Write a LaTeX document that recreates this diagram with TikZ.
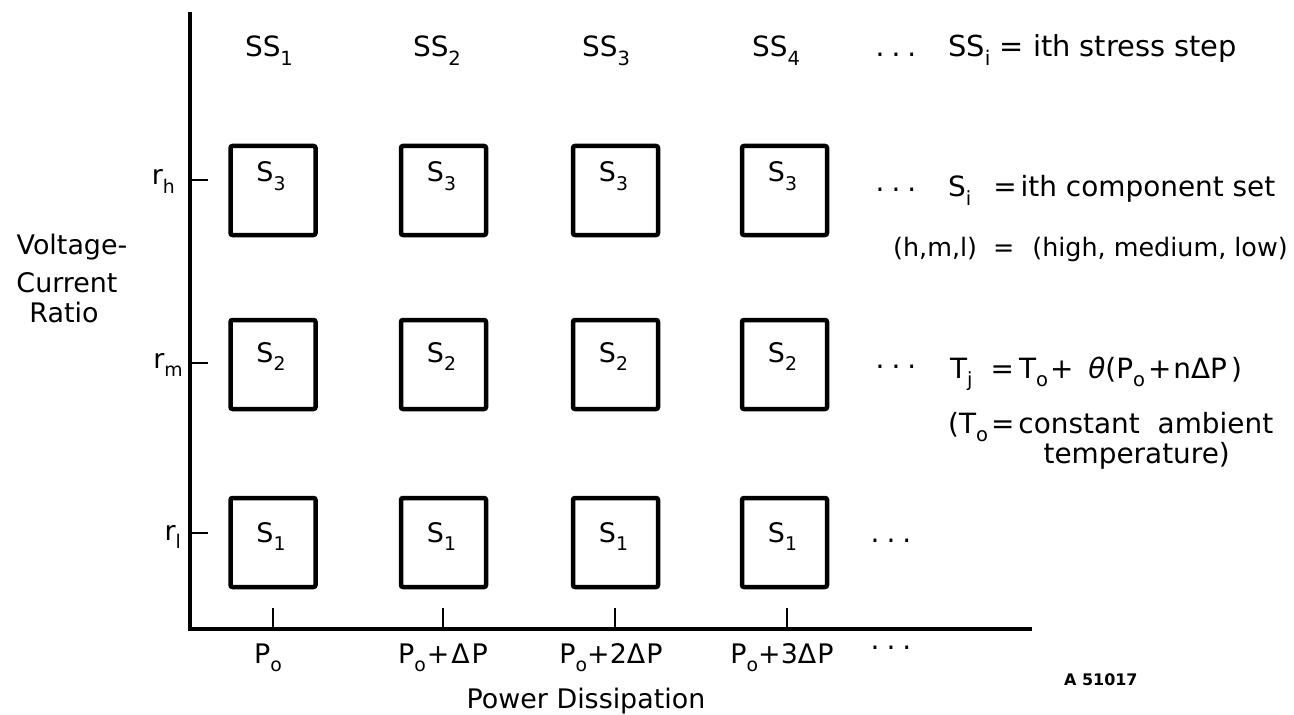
\documentclass[tikz,border=0pt]{standalone}
\usepackage{fontspec}
\setmainfont{DejaVu Sans}
\newcommand{\lo}[1]{\raisebox{-0.3em}{\scalebox{0.7}{#1}}}
\newcommand{\ddd}{.\hspace{7bp}.\hspace{7bp}.}
\begin{document}
\begin{tikzpicture}[x=1bp,y=-1bp,
  cell/.style={draw, line width=4.5bp, rounded corners=2bp, minimum width=85bp, minimum height=89bp, inner sep=0pt},
  lab/.style={inner sep=0pt, font=\fontsize{27}{30}\selectfont},
  note/.style={inner sep=0pt, anchor=base west, font=\fontsize{28}{32}\selectfont},
  dots/.style={inner sep=0pt, anchor=center, font=\fontsize{28}{32}\selectfont},
  axisline/.style={line width=4.5bp, line join=miter},
  tickline/.style={line width=2.6bp}]
\fill[white] (0,0) rectangle (1294,715);
\useasboundingbox (0,0) rectangle (1294,715);

% axes
\coordinate (ytop) at (190,12);
\coordinate (orig) at (190,629);
\coordinate (xend) at (1032,629);
\draw[axisline] (ytop) -- (orig) -- (xend);

% row ticks
\foreach \n/\y in {h/180, m/363, l/533} {
  \coordinate (rt\n) at (190,\y);
  \draw[tickline] (rt\n) -- ++(18,0);
}
\node[lab, anchor=base east] (rh) at (175,185) {r\lo{h}};
\node[lab, anchor=base east] (rm) at (183,368) {r\lo{m}};
\node[lab, anchor=base east] (rl) at (181,540) {r\lo{l}};

% boxes
\foreach \c/\x in {1/273, 2/443.5, 3/615.5, 4/784.5} {
  \foreach \r/\y/\b in {1/542.5/542, 2/364.5/362, 3/190.5/182} {
    \node[cell] (b\c\r) at (\x,\y) {};
    \node[lab, anchor=base] (s\c\r) at (\x-2,\b) {S\lo{\r}};
  }
}

% column heads
\foreach \c/\x in {1/269, 2/437, 3/606, 4/776}
  \node[lab, anchor=base, font=\fontsize{28}{32}\selectfont] (ss\c) at (\x,57) {SS\lo{\c}};

% bottom ticks
\foreach \c/\x in {1/273, 2/443, 3/615, 4/787} {
  \coordinate (pt\c) at (\x,629);
  \draw[tickline] (pt\c) -- ++(0,-21);
}
\node[lab, anchor=base] (p1) at (268,663) {P\lo{o}};
\node[lab, anchor=base] (p2) at (443,663) {P\lo{o}\hspace{1bp}+\hspace{2bp}Δ\hspace{2bp}P};
\node[lab, anchor=base] (p3) at (611,663) {P\lo{o}+2Δ\hspace{1bp}P};
\node[lab, anchor=base] (p4) at (782,663) {P\lo{o}+3Δ\hspace{1bp}P};
\node[dots] (dx) at (891,648) {\ddd};
\node[lab, anchor=base] (xlab) at (586,708) {Power Dissipation};
\node[inner sep=0pt, anchor=base west, font=\bfseries\fontsize{16}{18}\selectfont] (code) at (1064,685) {A 51017};

% y label
\node[lab, anchor=base] (y1) at (72,255) {Voltage-};
\node[lab, anchor=base] (y2) at (67,292) {Current};
\node[lab, anchor=base] (y3) at (64,322) {Ratio};

% right notes
\node[dots] (d1) at (896,55) {\ddd};
\node[note, font=\fontsize{29}{32}\selectfont] (n1) at (948,57) {SS\lo{i} = ith stress step};
\node[dots] (d2) at (896,190) {\ddd};
\node[note] (n2) at (948,197) {S\lo{i}\hspace{22bp}=\hspace{4bp}ith component set};
\node[note, font=\fontsize{25.5}{30}\selectfont] (n3) at (893,257) {(h,m,l)\hspace{16bp}=\hspace{18bp}(high, medium, low)};
\node[dots] (d3) at (896,367) {\ddd};
\node[note] (n4) at (950,378) {T\lo{j}\hspace{18bp}=\hspace{5bp}T\lo{o}\hspace{2bp}+\hspace{15bp}\textit{θ}(P\lo{o}\hspace{3bp}+\hspace{2bp}nΔP\hspace{4bp})};
\node[note] (n5) at (948,433) {(T\lo{o}\hspace{3bp}=\hspace{4bp}constant\hspace{18bp}ambient};
\node[note, anchor=base east] (n6) at (1230,463) {temperature)};
\node[dots] (d4) at (891,541) {\ddd};
\end{tikzpicture}
\end{document}
